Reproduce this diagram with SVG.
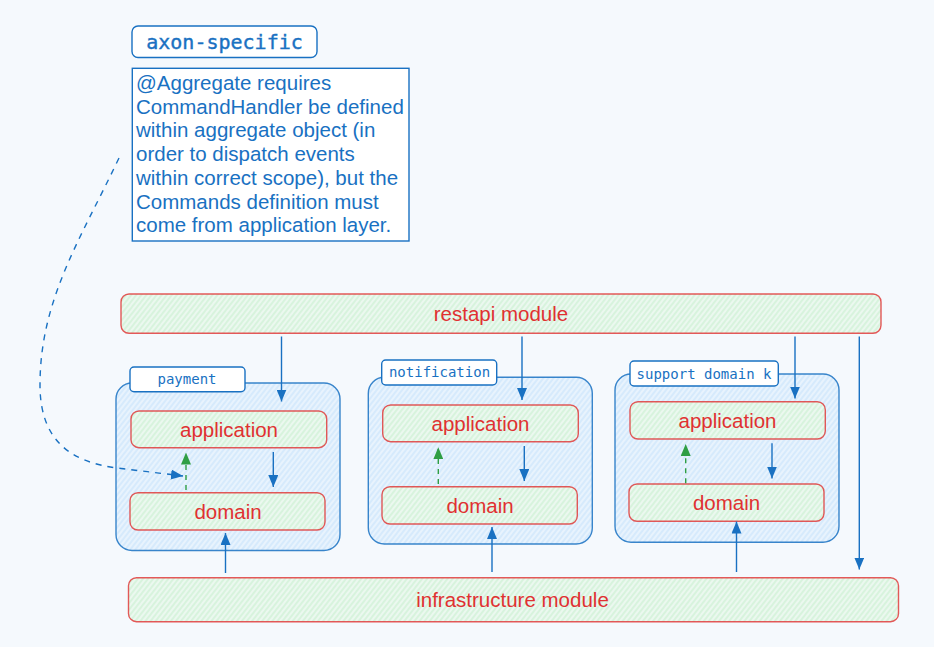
<svg xmlns="http://www.w3.org/2000/svg" width="934" height="647" viewBox="0 0 934 647">
<style>
.bg{fill:#f5f9fd}
.lbl{fill:#ffffff;stroke:#1971c2;stroke-width:1.4}
.mono{font-family:"DejaVu Sans Mono","Liberation Mono",monospace;fill:#1971c2;text-anchor:middle}
.note{font-family:"Liberation Sans",Arial,sans-serif;font-size:20.5px;fill:#1971c2}
.mod{fill:url(#hg);stroke:#e03131;stroke-width:1.4;stroke-opacity:0.8}
.cont{fill:url(#hb);stroke:#1971c2;stroke-width:1.4;stroke-opacity:0.85}
.rt{font-family:"Liberation Sans",Arial,sans-serif;font-size:20.5px;fill:#e03131;text-anchor:middle}
.cb{stroke:#1971c2;stroke-width:1.4;fill:none}
.cg{stroke:#2f9e44;stroke-width:1.4;fill:none;stroke-dasharray:5 5}
.cd{stroke:#1971c2;stroke-width:1.4;fill:none;stroke-dasharray:6 6}
</style>
<defs>
<pattern id="hg" width="4" height="4" patternUnits="userSpaceOnUse" patternTransform="rotate(38)">
<rect width="4" height="4" fill="#ebf8ef"/>
<line x1="1" y1="0" x2="1" y2="4" stroke="#c8f0ce" stroke-width="1.1"/>
</pattern>
<pattern id="hb" width="4" height="4" patternUnits="userSpaceOnUse" patternTransform="rotate(38)">
<rect width="4" height="4" fill="#e8f3fd"/>
<line x1="1" y1="0" x2="1" y2="4" stroke="#c8e4fc" stroke-width="1.1"/>
</pattern>
<marker id="ab" viewBox="0 0 12 10" refX="12" refY="5" markerWidth="12" markerHeight="10" orient="auto" markerUnits="userSpaceOnUse"><path d="M0,0 L12,5 L0,10 z" fill="#1971c2"/></marker>
<marker id="ag" viewBox="0 0 12 10" refX="12" refY="5" markerWidth="12" markerHeight="10" orient="auto" markerUnits="userSpaceOnUse"><path d="M0,0 L12,5 L0,10 z" fill="#2f9e44"/></marker>
</defs>
<rect class="bg" x="0" y="0" width="934" height="647"/>

<g id="axon-label">
<rect class="lbl" x="132" y="26" width="185" height="31.5" rx="6"/>
<text class="mono" x="224.5" y="49" font-size="20" stroke="#1971c2" stroke-width="0.4">axon-specific</text>
</g>

<g id="note">
<rect class="lbl" x="132.3" y="68.3" width="276.7" height="172.7"/>
<text class="note">
<tspan x="136" y="90">@Aggregate requires</tspan>
<tspan x="136" y="113.7">CommandHandler be defined</tspan>
<tspan x="136" y="137.4">within aggregate object (in</tspan>
<tspan x="136" y="161.1">order to dispatch events</tspan>
<tspan x="136" y="184.8">within correct scope), but the</tspan>
<tspan x="136" y="208.5">Commands definition must</tspan>
<tspan x="136" y="232.2">come from application layer.</tspan>
</text>
</g>

<g id="restapi">
<rect class="mod" x="121" y="294" width="760" height="39.3" rx="8"/>
<text class="rt" x="501" y="321">restapi module</text>
</g>

<g id="payment">
<rect class="cont" x="116" y="383" width="224" height="167.5" rx="16"/>
<rect class="lbl" x="130" y="367" width="115" height="24.7" rx="4"/>
<text class="mono" x="187" y="384" font-size="14">payment</text>
</g>
<g id="payment-application">
<rect class="mod" x="131" y="411" width="195.7" height="36.7" rx="8"/>
<text class="rt" x="229" y="437">application</text>
</g>
<g id="payment-domain">
<rect class="mod" x="130" y="492.7" width="195" height="37.3" rx="8"/>
<text class="rt" x="228" y="518.5">domain</text>
</g>

<g id="notification">
<rect class="cont" x="368.3" y="377.3" width="224" height="166.7" rx="16"/>
<rect class="lbl" x="381.7" y="360" width="115" height="25" rx="4"/>
<text class="mono" x="439.5" y="377" font-size="14">notification</text>
</g>
<g id="notification-application">
<rect class="mod" x="382.7" y="405" width="195.6" height="36.7" rx="8"/>
<text class="rt" x="480.5" y="431">application</text>
</g>
<g id="notification-domain">
<rect class="mod" x="382" y="486.7" width="195.3" height="37.3" rx="8"/>
<text class="rt" x="480" y="512.5">domain</text>
</g>

<g id="support">
<rect class="cont" x="615" y="374" width="224" height="168.3" rx="16"/>
<rect class="lbl" x="630" y="361" width="148.3" height="25" rx="4"/>
<text class="mono" x="704" y="378.5" font-size="14">support domain k</text>
</g>
<g id="support-application">
<rect class="mod" x="630" y="401.7" width="195.3" height="37.3" rx="8"/>
<text class="rt" x="727.5" y="427.5">application</text>
</g>
<g id="support-domain">
<rect class="mod" x="629" y="484" width="195" height="37.3" rx="8"/>
<text class="rt" x="726.5" y="510">domain</text>
</g>

<g id="infrastructure">
<rect class="mod" x="128.5" y="577.7" width="770" height="44" rx="8"/>
<text class="rt" x="512.5" y="607">infrastructure module</text>
</g>

<g id="connectors">
<path class="cd" d="M119,158 C80,240 40,300 40,385 C40,440 70,462 117,468 L183,476" marker-end="url(#ab)"/>
<line class="cb" x1="281.5" y1="336.5" x2="281.5" y2="401.5" marker-end="url(#ab)"/>
<line class="cb" x1="273.3" y1="452" x2="273.3" y2="487" marker-end="url(#ab)"/>
<line class="cg" x1="186" y1="490" x2="186" y2="452.5" marker-end="url(#ag)"/>
<line class="cb" x1="225.5" y1="573" x2="225.5" y2="533" marker-end="url(#ab)"/>

<line class="cb" x1="522" y1="336.5" x2="522" y2="400" marker-end="url(#ab)"/>
<line class="cb" x1="524.3" y1="446" x2="524.3" y2="481" marker-end="url(#ab)"/>
<line class="cg" x1="438.3" y1="484" x2="438.3" y2="447.3" marker-end="url(#ag)"/>
<line class="cb" x1="492" y1="572" x2="492" y2="527" marker-end="url(#ab)"/>

<line class="cb" x1="795" y1="336.5" x2="795" y2="398.5" marker-end="url(#ab)"/>
<line class="cb" x1="772" y1="443.3" x2="772" y2="478.5" marker-end="url(#ab)"/>
<line class="cg" x1="685.7" y1="483.3" x2="685.7" y2="444" marker-end="url(#ag)"/>
<line class="cb" x1="736.5" y1="572" x2="736.5" y2="521.5" marker-end="url(#ab)"/>

<line class="cb" x1="859.3" y1="336.5" x2="859.3" y2="569.5" marker-end="url(#ab)"/>
</g>
</svg>
